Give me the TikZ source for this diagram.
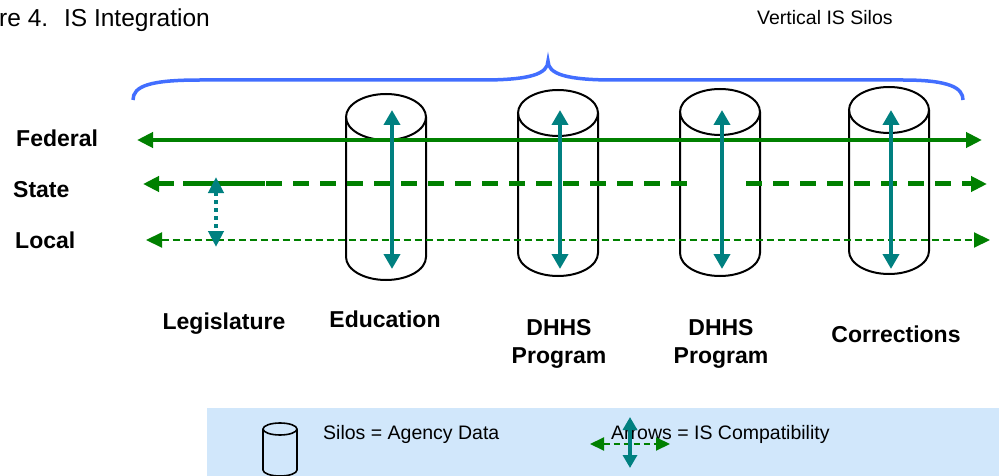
\documentclass[tikz,border=0pt]{standalone}
\usepackage{fontspec}
\setmainfont{Liberation Sans}
\usetikzlibrary{arrows.meta}
\definecolor{fedgreen}{RGB}{0,128,0}
\definecolor{tealc}{RGB}{0,128,128}
\definecolor{braceblue}{RGB}{66,110,255}
\definecolor{legendbg}{RGB}{209,231,251}
\tikzset{
  gtip/.tip={Triangle[length=16pt,width=15pt]},
  ttip/.tip={Triangle[length=15pt,width=16pt]},
  stip/.tip={Triangle[length=13pt,width=14pt]},
  htip/.tip={Triangle[length=14pt,width=13pt]},
}
\begin{document}
\begin{tikzpicture}[x=1pt,y=-1pt,
  lbl/.style={inner sep=0pt, font=\fontsize{23}{28}\selectfont\bfseries},
  plain/.style={inner sep=0pt, font=\fontsize{19.5}{23}\selectfont},
  silo/.style={draw=black, line width=2pt},
  fedl/.style={color=fedgreen, line width=4pt},
  statel/.style={color=fedgreen, line width=5pt, dash pattern=on 16pt off 11pt},
  locall/.style={color=fedgreen, line width=2pt, dash pattern=on 7pt off 4pt},
  compat/.style={color=tealc, line width=4pt, ttip-ttip},
]
\useasboundingbox (0,0) rectangle (999,476);

% title texts
\node[anchor=base west, inner sep=0pt, font=\fontsize{24.5}{28}\selectfont] (title) at (-1,27) {re 4.~ IS Integration};
\node[plain, anchor=base west] (vsilos) at (757,25) {Vertical IS Silos};

% brace
\draw[braceblue, line width=3.5pt] (133,100) .. controls (133,86) and (150,80) .. (200,80) -- (482,80)
  .. controls (530,80) and (548,74) .. (548,61)
  .. controls (548,74) and (566,80) .. (614,80) -- (903,80)
  .. controls (950,80) and (963,88) .. (963,100);

% level labels
\node[lbl, anchor=base west] (federal) at (16,147) {Federal};
\node[lbl, anchor=base west] (state) at (13,197) {State};
\node[lbl, anchor=base west] (local) at (15,248) {Local};

% silos
\foreach \cx/\ty/\by in {386/117/257, 558/113/253, 720/112/253, 889/110/251} {
  \draw[silo] (\cx,\ty) ellipse [x radius=40, y radius=23];
  \draw[silo] (\cx-40,\ty) -- (\cx-40,\by) arc[start angle=180, end angle=0, x radius=40, y radius=23] -- (\cx+40,\ty);
}

% horizontal level lines
\coordinate (fedL) at (137,140);
\coordinate (fedR) at (982,140);
\draw[fedl, gtip-gtip] (fedL) -- (fedR);

\coordinate (stL) at (143,184);
\coordinate (stG1) at (695,184);
\coordinate (stG2) at (746,184);
\coordinate (stR) at (987,184);
\coordinate (stS1) at (183,184);
\coordinate (stS2) at (265,184);
\draw[statel, gtip-] (stL) -- (stG1);
\draw[statel, -gtip] (stG2) -- (stR);
\draw[color=fedgreen, line width=5pt] (stS1) -- (stS2);

\coordinate (loL) at (146,240);
\coordinate (loR) at (990,240);
\draw[locall, gtip-gtip] (loL) -- (loR);

% vertical compatibility arrows
\coordinate (eduT) at (392,110); \coordinate (eduB) at (392,269);
\coordinate (dhaT) at (560,110); \coordinate (dhaB) at (560,269);
\coordinate (dhbT) at (722,110); \coordinate (dhbB) at (722,269);
\coordinate (corT) at (891,110); \coordinate (corB) at (891,269);
\draw[compat] (eduT) -- (eduB);
\draw[compat] (dhaT) -- (dhaB);
\draw[compat] (dhbT) -- (dhbB);
\draw[compat] (corT) -- (corB);

\coordinate (legT) at (216,177); \coordinate (legB) at (216,247);
\draw[color=tealc, line width=4pt, dash pattern=on 4pt off 4pt, gtip-gtip] (legT) -- (legB);

% column labels
\node[lbl, anchor=base] (legis) at (224,329) {Legislature};
\node[lbl, anchor=base] (educ) at (385,327) {Education};
\node[lbl, anchor=base] (dhhsA) at (559,335) {DHHS};
\node[lbl, anchor=base] (progA) at (559,363) {Program};
\node[lbl, anchor=base] (dhhsB) at (721,335) {DHHS};
\node[lbl, anchor=base] (progB) at (721,363) {Program};
\node[lbl, anchor=base] (corr) at (896,342) {Corrections};

% legend
\fill[legendbg] (207,408) rectangle (1005,480);
\draw[line width=1.6pt] (280,429) ellipse [x radius=17, y radius=6];
\draw[line width=1.6pt] (263,429) -- (263,470) arc[start angle=180, end angle=0, x radius=17, y radius=6] -- (297,429);
\node[plain, anchor=base west] (silotxt) at (323,439) {Silos = Agency Data};
\node[plain, anchor=base west] (arrtxt) at (611,439) {Arrows = IS Compatibility};
\coordinate (lgH1) at (590,444); \coordinate (lgH2) at (670,444);
\coordinate (lgV1) at (630,417); \coordinate (lgV2) at (630,468);
\draw[color=fedgreen, line width=2pt, dash pattern=on 6pt off 4pt, htip-htip] (lgH1) -- (lgH2);
\draw[color=tealc, line width=3.5pt, stip-stip] (lgV1) -- (lgV2);
\end{tikzpicture}
\end{document}
